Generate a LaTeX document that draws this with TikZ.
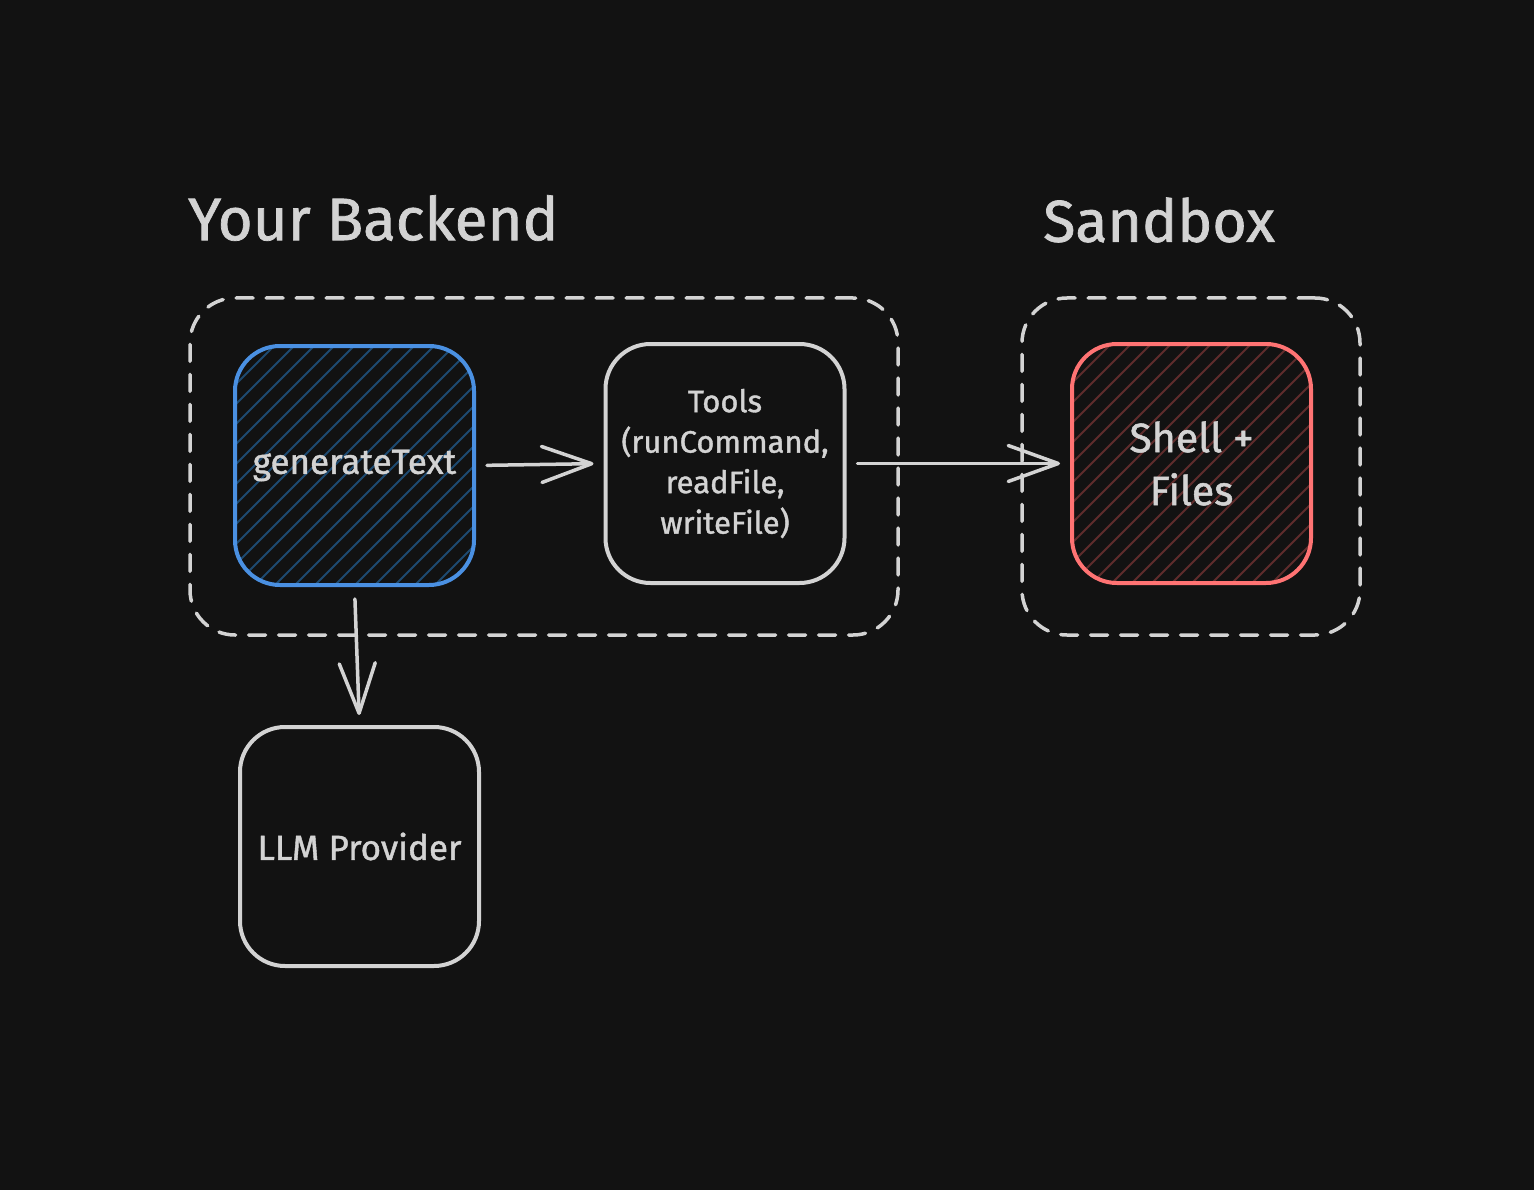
\documentclass[tikz,border=0pt]{standalone}
\usepackage{fontspec}
\setmainfont{Fira Sans}[FakeBold=1.2]
\usetikzlibrary{arrows.meta,calc}
\definecolor{bg}{HTML}{121212}
\definecolor{ink}{HTML}{D3D3D3}
\definecolor{blu}{HTML}{4A90E2}
\definecolor{bluhatch}{HTML}{1E4A70}
\definecolor{redd}{HTML}{FF7373}
\definecolor{redhatch}{HTML}{5E2C2C}
\tikzset{
  card/.style={draw=ink, line width=4pt, rounded corners=45pt, minimum width=239pt, minimum height=239pt, align=center, text=ink, font=\fontsize{31}{40.5}\selectfont, inner sep=0pt},
  hatched/.style={path picture={
      \foreach \i in {-14,...,14}
        \draw[#1, line width=1.8pt] ($(path picture bounding box.south west)+(\i*20pt,0pt)$) -- ++(300pt,300pt);
    }},
  frame/.style={draw=ink, line width=3.5pt, dash pattern=on 17pt off 13pt, line cap=round, rounded corners=45pt, inner sep=0pt},
  flow/.style={draw=ink, line width=3.5pt, line cap=round, -{Straight Barb[length=50pt, width=36pt, line width=3.5pt, round]}},
  title/.style={text=ink, font=\fontsize{60}{62}\selectfont, anchor=west, inner sep=0pt}
}
\begin{document}
\begin{tikzpicture}[x=1pt, y=-1pt]
\fill[bg] (0,0) rectangle (1534,1190);
\useasboundingbox (0,0) rectangle (1534,1190);

\node[title] (t1) at (188,218) {Your Backend};
\node[title, font=\fontsize{59}{62}\selectfont] (t2) at (1043,220) {Sandbox};

\node[frame, minimum width=708pt, minimum height=337pt] (backend) at (544,466.5) {};
\node[frame, minimum width=338pt, minimum height=337pt] (sandbox) at (1191,466.5) {};

\node[card, draw=blu, hatched=bluhatch, font=\fontsize{35}{40}\selectfont] (gen) at (354.5,465.5) {generateText};
\node[card] (tools) at (725,463.5) {Tools\\(runCommand,\\readFile,\\writeFile)};
\node[card, draw=redd, hatched=redhatch, font=\fontsize{41}{51}\selectfont] (shell) at (1191.5,463.5) {\raisebox{2pt}{Shell +}\\Files};
\node[card, font=\fontsize{35}{40}\selectfont] (llm) at (359.5,846.5) {LLM Provider};

\draw[flow, shorten <=11pt, shorten >=10pt] (gen.east) -- (tools.west);
\draw[flow, shorten <=11pt, shorten >=10pt] (tools.east) -- (shell.west);
\draw[flow, shorten <=12pt, shorten >=10pt] (gen.south) -- (llm.north);
\end{tikzpicture}
\end{document}
